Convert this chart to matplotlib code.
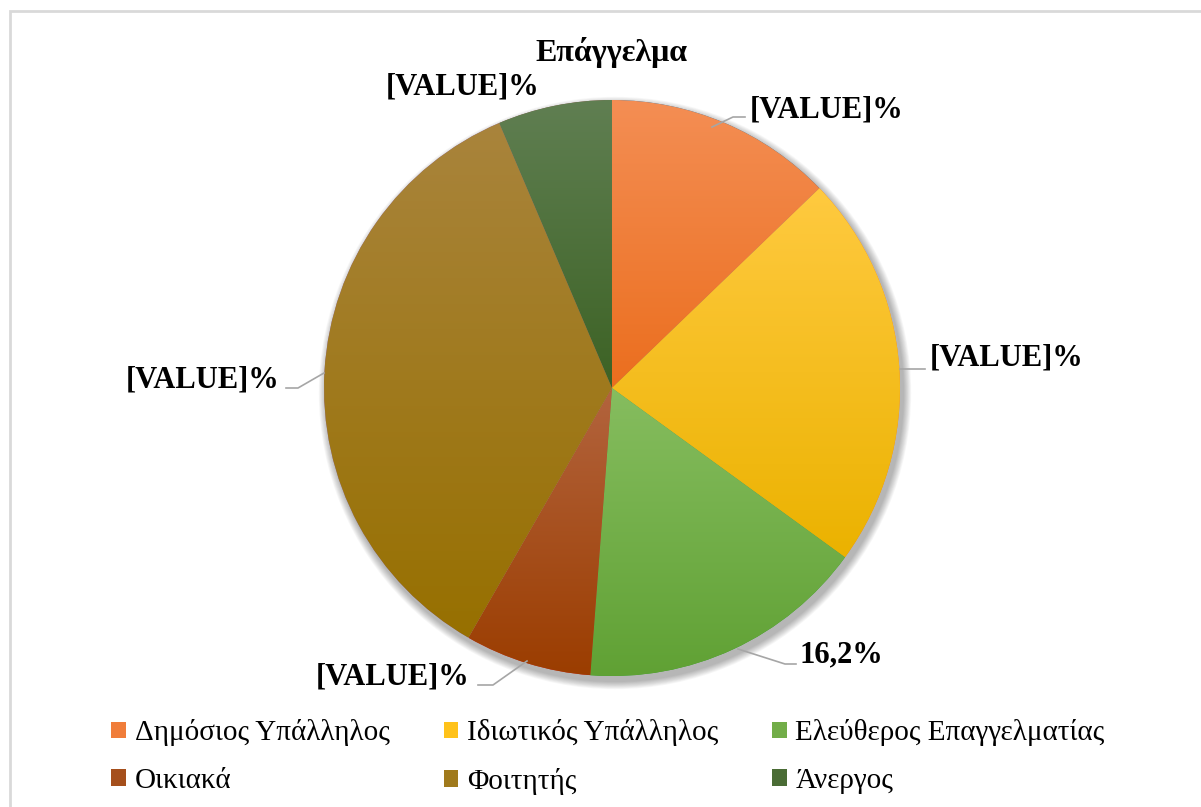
import numpy as np
import matplotlib
matplotlib.use("Agg")
import matplotlib.pyplot as plt
from matplotlib.colors import to_rgb
from matplotlib.patches import Rectangle, Circle, Patch

# dane
labels = ["Δημόσιος Υπάλληλος", "Ιδιωτικός Υπάλληλος", "Ελεύθερος Επαγγελματίας",
          "Οικιακά", "Φοιτητής", "Άνεργος"]
values = [12.8, 22.2, 16.2, 7.1, 35.3, 6.4]
value_texts = ["[VALUE]%", "[VALUE]%", "16,2%", "[VALUE]%", "[VALUE]%", "[VALUE]%"]
title = "Επάγγελμα"

# kolory (gora -> dol gradientu)
top_colors = ["#F48E54", "#FFCA40", "#86BD5F", "#B3643E", "#A9843C", "#607F52"]
bottom_colors = ["#EB6E1E", "#EBB200", "#60A134", "#9B3D00", "#977000", "#3C6224"]
legend_colors = ["#F07D3A", "#FFC21A", "#72AD48", "#A54F1C", "#A07A1C", "#4A6C35"]

W, H = 1201, 807
serif = ["Liberation Serif", "DejaVu Serif"]

def py(y):
    # piksele od gory -> wspolrzedne osi
    return H - y

fig = plt.figure(figsize=(W / 100, H / 100), dpi=100)
ax = fig.add_axes([0, 0, 1, 1])
ax.set_xlim(0, W)
ax.set_ylim(0, H)
ax.set_aspect("equal")
ax.axis("off")

# ramka
ax.add_patch(Rectangle((10, -10), W + 20, py(11) + 10, fill=False,
                       edgecolor="#D9D9D9", lw=2))

cx, cy, r = 612, py(388), 288

# cien
for i in range(10):
    ax.add_patch(Circle((cx + 3, cy - 5), r + 1 + i * 0.8, color="black",
                        alpha=0.03, lw=0, zorder=1))

wedges, _ = ax.pie(values, center=(cx, cy), radius=r, startangle=90,
                   counterclock=False, frame=True,
                   wedgeprops=dict(linewidth=0))
ax.set_xlim(0, W)
ax.set_ylim(0, H)
ax.axis("off")

for w, ct, cb in zip(wedges, top_colors, bottom_colors):
    w.set_zorder(2)
    ext = w.get_path().get_extents()
    t = np.linspace(0, 1, 256)[:, None, None]
    grad = (1 - t) * np.array(to_rgb(ct)) + t * np.array(to_rgb(cb))
    grad = np.repeat(grad, 2, axis=1)
    im = ax.imshow(grad, extent=(ext.x0, ext.x1, ext.y0, ext.y1),
                   origin="upper", aspect="auto", zorder=3, interpolation="bilinear")
    im.set_clip_path(w)

ax.set_xlim(0, W)
ax.set_ylim(0, H)

# etykiety wartosci
lab_pos = [(750, 110, "left"), (930, 358, "left"), (800, 655, "left"),
           (469, 677, "right"), (279, 380, "right"), (540, 87, "right")]
leaders = [
    [(712, 127), (733, 117), (745, 117)],
    [(900, 369), (925, 369)],
    [(738, 649), (785, 664), (796, 664)],
    [(527, 661), (493, 685), (478, 685)],
    [(324, 373), (298, 388), (286, 388)],
    None,
]
for (x, y, ha), txt, ld in zip(lab_pos, value_texts, leaders):
    ax.text(x, py(y), txt, ha=ha, va="center", fontsize=22, fontweight="bold",
            family=serif, color="black", zorder=5)
    if ld:
        xs = [p[0] for p in ld]
        ys = [py(p[1]) for p in ld]
        ax.plot(xs, ys, color="#A6A6A6", lw=1.2, zorder=4)

ax.text(612, py(52), title, ha="center", va="center", fontsize=23,
        fontweight="bold", family=serif)

handles = [Patch(facecolor=c, edgecolor="none") for c in legend_colors]
order = [0, 3, 1, 4, 2, 5]
leg = ax.legend([handles[i] for i in order], [labels[i] for i in order],
                ncol=3, loc="center", bbox_to_anchor=(608 / W, 1 - 757 / H),
                frameon=False, prop={"family": serif, "size": 21},
                handlelength=0.5, handleheight=0.5, handletextpad=0.3,
                columnspacing=1.85, labelspacing=0.73)

fig.savefig("out.png", dpi=100)
